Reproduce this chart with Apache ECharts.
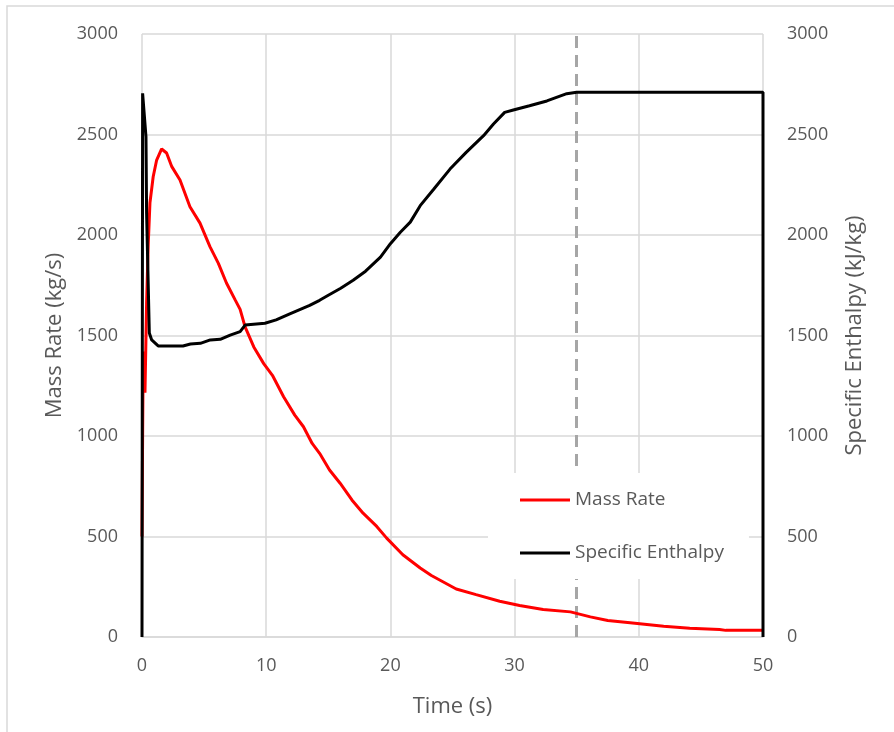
<!DOCTYPE html>
<html>
<head>
<meta charset="utf-8">
<title>Mass Rate / Specific Enthalpy</title>
<script src="https://cdn.jsdelivr.net/npm/echarts@6/dist/echarts.min.js"></script>
<style>
  html, body { margin: 0; padding: 0; background: #fff; }
  #chart { width: 894px; height: 732px; }
</style>
</head>
<body>
<div id="chart"></div>
<script>
// values
const massTime = [0, 0.05, 0.1, 0.24, 0.37, 0.5, 0.64, 0.9, 1.18, 1.58, 1.98, 2.4, 3.06, 3.86, 4.67, 5.47, 6.15, 6.8, 7.5, 7.9, 8.3, 9.0, 9.8, 10.5, 11.4, 12.3, 13.0, 13.7, 14.3, 15.1, 15.95, 16.9, 17.8, 18.9, 19.7, 21.0, 22.4, 23.3, 25.3, 26.9, 28.8, 30.4, 32.3, 34.5, 36.1, 37.5, 39.3, 42.0, 44.1, 46.5, 47.0, 50.0]
const massRate = [500, 1000, 1420, 1215, 1660, 1950, 2160, 2290, 2373, 2428, 2408, 2340, 2274, 2141, 2059, 1942, 1859, 1761, 1677, 1630, 1543, 1443, 1360, 1302, 1195, 1104, 1046, 963, 914, 831, 765, 682, 616, 550, 492, 409, 343, 306, 239, 211, 178, 157, 137, 125, 100, 82, 71, 54, 43, 37, 33, 33]

const enthTime = [0, 0.05, 0.2, 0.32, 0.37, 0.59, 0.78, 1.3, 3.3, 3.9, 4.7, 5.5, 6.3, 7.1, 7.9, 8.3, 9.9, 10.8, 11.9, 13.5, 14.3, 15, 16, 17, 18, 19.2, 20, 20.8, 21.6, 22.4, 23.5, 24.8, 26.1, 27.5, 28.3, 29.2, 29.9, 31.2, 32.6, 34.2, 35, 50, 50]
const enthalpy = [0, 2705, 2700, 2489, 2109, 1512, 1478, 1448, 1448, 1458, 1461, 1478, 1481, 1502, 1519, 1552, 1561, 1578, 1608, 1650, 1675, 1700, 1735, 1775, 1820, 1890, 1957, 2014, 2064, 2146, 2229, 2328, 2411, 2494, 2552, 2610, 2622, 2643, 2667, 2703, 2710, 2710, 0]

const markerTime = 35
const xTicks = { min: 0, max: 50, interval: 10 }
const yTicks = { min: 0, max: 3000, interval: 500 }

const font = '"Open Sans", "Noto Sans", sans-serif'
const grey = '#595959'
const gridGrey = '#d9d9d9'

const pairs = (xs, ys) => xs.map((x, i) => [x, ys[i]])
const plain = v => String(v)

const chart = echarts.init(document.getElementById('chart'))
chart.setOption({
  backgroundColor: '#fff',
  animation: false,
  textStyle: {
    fontFamily: font
  },
  graphic: [{
    type: 'rect',
    shape: { x: 7, y: 6, width: 1000, height: 1000 },
    style: { fill: 'none', stroke: gridGrey, lineWidth: 1.5 },
    silent: true
  }],
  grid: {
    left: 142,
    right: 131,
    top: 34,
    bottom: 95
  },
  legend: {
    left: 488,
    top: 473,
    orient: 'vertical',
    backgroundColor: '#fff',
    padding: [17, 25, 16, 32],
    itemWidth: 50,
    itemHeight: 3,
    itemGap: 33,
    icon: 'rect',
    z: 10,
    textStyle: {
      color: grey,
      fontSize: 19,
      lineHeight: 20,
      fontFamily: font
    },
    data: ['Mass Rate', 'Specific Enthalpy']
  },
  xAxis: {
    type: 'value',
    min: xTicks.min,
    max: xTicks.max,
    interval: xTicks.interval,
    name: 'Time (s)',
    nameLocation: 'middle',
    nameGap: 59,
    nameTextStyle: { color: grey, fontSize: 22, fontFamily: font },
    axisLine: { show: true, lineStyle: { color: gridGrey, width: 1.5 } },
    axisTick: { show: false },
    axisLabel: { color: grey, fontSize: 18, margin: 20, fontFamily: font, formatter: plain },
    splitLine: { show: true, lineStyle: { color: gridGrey, width: 1.5 } }
  },
  yAxis: [{
    type: 'value',
    position: 'left',
    min: yTicks.min,
    max: yTicks.max,
    interval: yTicks.interval,
    name: 'Mass Rate (kg/s)',
    nameLocation: 'middle',
    nameGap: 68,
    nameRotate: 90,
    nameTextStyle: { color: grey, fontSize: 22, fontFamily: font },
    axisLine: { show: false },
    axisTick: { show: false },
    axisLabel: { color: grey, fontSize: 18, margin: 24, fontFamily: font, formatter: plain },
    splitLine: { show: true, lineStyle: { color: gridGrey, width: 1.5 } }
  }, {
    type: 'value',
    position: 'right',
    min: yTicks.min,
    max: yTicks.max,
    interval: yTicks.interval,
    name: 'Specific Enthalpy (kJ/kg)',
    nameLocation: 'middle',
    nameGap: 81,
    nameRotate: 90,
    nameTextStyle: { color: grey, fontSize: 22, fontFamily: font },
    axisLine: { show: false },
    axisTick: { show: false },
    axisLabel: { color: grey, fontSize: 18, margin: 24, fontFamily: font, formatter: plain },
    splitLine: { show: false }
  }],
  series: [{
    // carries only the dashed marker at t = 35 s, drawn under the curves
    type: 'line',
    data: [],
    z: 1,
    markLine: {
      silent: true,
      z: 1,
      symbol: 'none',
      label: { show: false },
      lineStyle: { color: '#a6a6a6', width: 3, type: [12, 7] },
      data: [{ xAxis: markerTime }]
    }
  }, {
    name: 'Mass Rate',
    type: 'line',
    yAxisIndex: 0,
    z: 3,
    symbol: 'none',
    color: '#ff0000',
    lineStyle: { color: '#ff0000', width: 3 },
    data: pairs(massTime, massRate)
  }, {
    name: 'Specific Enthalpy',
    type: 'line',
    yAxisIndex: 1,
    z: 4,
    symbol: 'none',
    color: '#000000',
    lineStyle: { color: '#000000', width: 3 },
    data: pairs(enthTime, enthalpy)
  }]
})
</script>
</body>
</html>
